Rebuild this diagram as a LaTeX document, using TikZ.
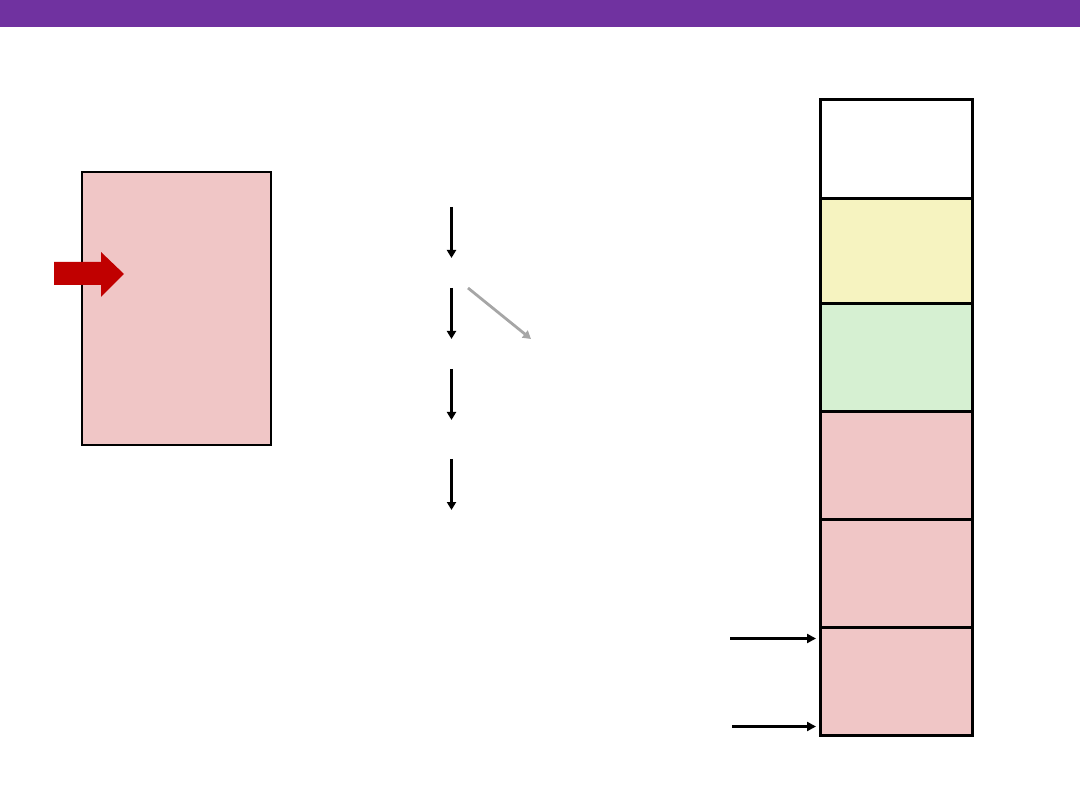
\documentclass[tikz,border=0pt]{standalone}
\usetikzlibrary{arrows.meta}
\definecolor{barpurple}{RGB}{112,50,160}
\definecolor{pinkfill}{RGB}{240,198,198}
\definecolor{yellowfill}{RGB}{246,243,192}
\definecolor{greenfill}{RGB}{214,240,210}
\definecolor{redarrow}{RGB}{192,0,0}
\definecolor{grayarrow}{RGB}{166,166,166}
\tikzset{
  box/.style={draw=black, line width=2pt, rectangle, inner sep=0pt, anchor=north west},
  cell/.style={draw=black, line width=3pt, rectangle, inner sep=0pt, anchor=north west, minimum width=152pt},
  downarr/.style={line width=3pt, -{Triangle[length=8pt,width=9pt]}},
  grayarr/.style={draw=grayarrow, line width=2.8pt, -{Triangle[length=8pt,width=9pt]}},
  sidearr/.style={line width=3pt, -{Triangle[length=9pt,width=9pt]}}
}
\begin{document}
\begin{tikzpicture}[x=1pt,y=-1pt]
\useasboundingbox (0,0) rectangle (1080,810);
\fill[barpurple] (0,0) rectangle (1080,27);
% left box
\node[box, fill=pinkfill, minimum width=189pt, minimum height=273pt] (lbox) at (81,171) {};
% red block arrow
\fill[redarrow] (54,262) -- (101,262) -- (101,252) -- (124,274) -- (101,297) -- (101,285) -- (54,285) -- cycle;
% down arrows
\coordinate (d1a) at (451.5,207); \coordinate (d1b) at (451.5,258);
\coordinate (d2a) at (451.5,288); \coordinate (d2b) at (451.5,339);
\coordinate (d3a) at (451.5,369); \coordinate (d3b) at (451.5,420);
\coordinate (d4a) at (451.5,459); \coordinate (d4b) at (451.5,510);
\draw[downarr] (d1a) -- (d1b);
\draw[downarr] (d2a) -- (d2b);
\draw[downarr] (d3a) -- (d3b);
\draw[downarr] (d4a) -- (d4b);
\coordinate (ga) at (468,288); \coordinate (gb) at (531,339);
\draw[grayarr] (ga) -- (gb);
% right stack
\node[cell, fill=white, minimum height=99pt] (c1) at (819,98) {};
\node[cell, fill=yellowfill, minimum height=105pt] (c2) at (819,197) {};
\node[cell, fill=greenfill, minimum height=108pt] (c3) at (819,302) {};
\node[cell, fill=pinkfill, minimum height=108pt] (c4) at (819,410) {};
\node[cell, fill=pinkfill, minimum height=108pt] (c5) at (819,518) {};
\node[cell, fill=pinkfill, minimum height=108pt] (c6) at (819,626) {};
% side arrows
\coordinate (s1) at (730,638.5); \coordinate (s1e) at (816,638.5);
\coordinate (s2) at (732,726.5); \coordinate (s2e) at (816,726.5);
\draw[sidearr] (s1) -- (s1e);
\draw[sidearr] (s2) -- (s2e);
\end{tikzpicture}
\end{document}
